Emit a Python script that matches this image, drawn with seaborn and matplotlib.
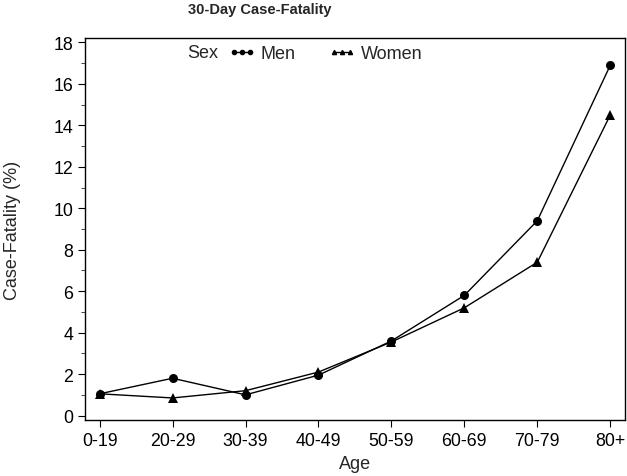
import pandas as pd
import numpy as np
import seaborn as sns
import matplotlib.pyplot as plt
from matplotlib.ticker import MultipleLocator

sns.set_style("ticks")
plt.rcParams['font.family'] = ['Liberation Sans', 'DejaVu Sans']

# datos
edades = ['0-19', '20-29', '30-39', '40-49', '50-59', '60-69', '70-79', '80+']
hombres = [1.05, 1.8, 1.0, 1.95, 3.6, 5.8, 9.4, 16.9]
mujeres = [1.05, 0.85, 1.2, 2.1, 3.55, 5.2, 7.4, 14.5]

df = pd.DataFrame({
    'Age': edades * 2,
    'pos': list(range(len(edades))) * 2,
    'CF': hombres + mujeres,
    'Sex': ['Men'] * len(edades) + ['Women'] * len(edades),
})

fig = plt.figure(figsize=(6.27, 4.77), dpi=100)
ax = fig.add_axes([0.1356, 0.118, 0.861, 0.7996])

sns.lineplot(data=df, x='pos', y='CF', style='Sex', hue='Sex',
             palette=['black', 'black'], markers={'Men': 'o', 'Women': '^'},
             dashes=False, markersize=6.5, linewidth=1.0, markeredgewidth=0,
             ax=ax, legend=False)

ax.set_xlim(-0.2, 7.2)
ax.set_ylim(-0.2, 18.2)
ax.set_xticks(range(len(edades)))
ax.set_xticklabels(edades)
ax.yaxis.set_major_locator(MultipleLocator(2))
ax.yaxis.set_minor_locator(MultipleLocator(1))
ax.tick_params(axis='both', labelsize=12.8, color='black', labelcolor='black')
ax.tick_params(which='major', length=5)
ax.tick_params(which='minor', length=3)
for s in ax.spines.values():
    s.set_color('black')
    s.set_linewidth(1.0)

ax.set_xlabel('Age', fontsize=13, labelpad=5)
ax.set_ylabel('Case-Fatality (%)', fontsize=13, labelpad=23)
fig.text(0.414, 0.979, '30-Day Case-Fatality', fontsize=10.5, fontweight='bold',
         ha='center', va='center')

# leyenda en una linea: "Sex  Men  Women"
h_m, = ax.plot([], [], color='black', marker='o', markersize=3, lw=1)
h_w, = ax.plot([], [], color='black', marker='^', markersize=3, lw=1)
ax.legend([h_m, h_w], ['Men', 'Women'], ncol=2, frameon=False, fontsize=13,
          numpoints=3, handlelength=1.5, columnspacing=1.8, handletextpad=0.3,
          loc='upper left', bbox_to_anchor=(0.235, 1.024))
ax.text(0.19, 0.962, 'Sex', transform=ax.transAxes, fontsize=13, va='center')

fig.savefig('out.png', dpi=100)
